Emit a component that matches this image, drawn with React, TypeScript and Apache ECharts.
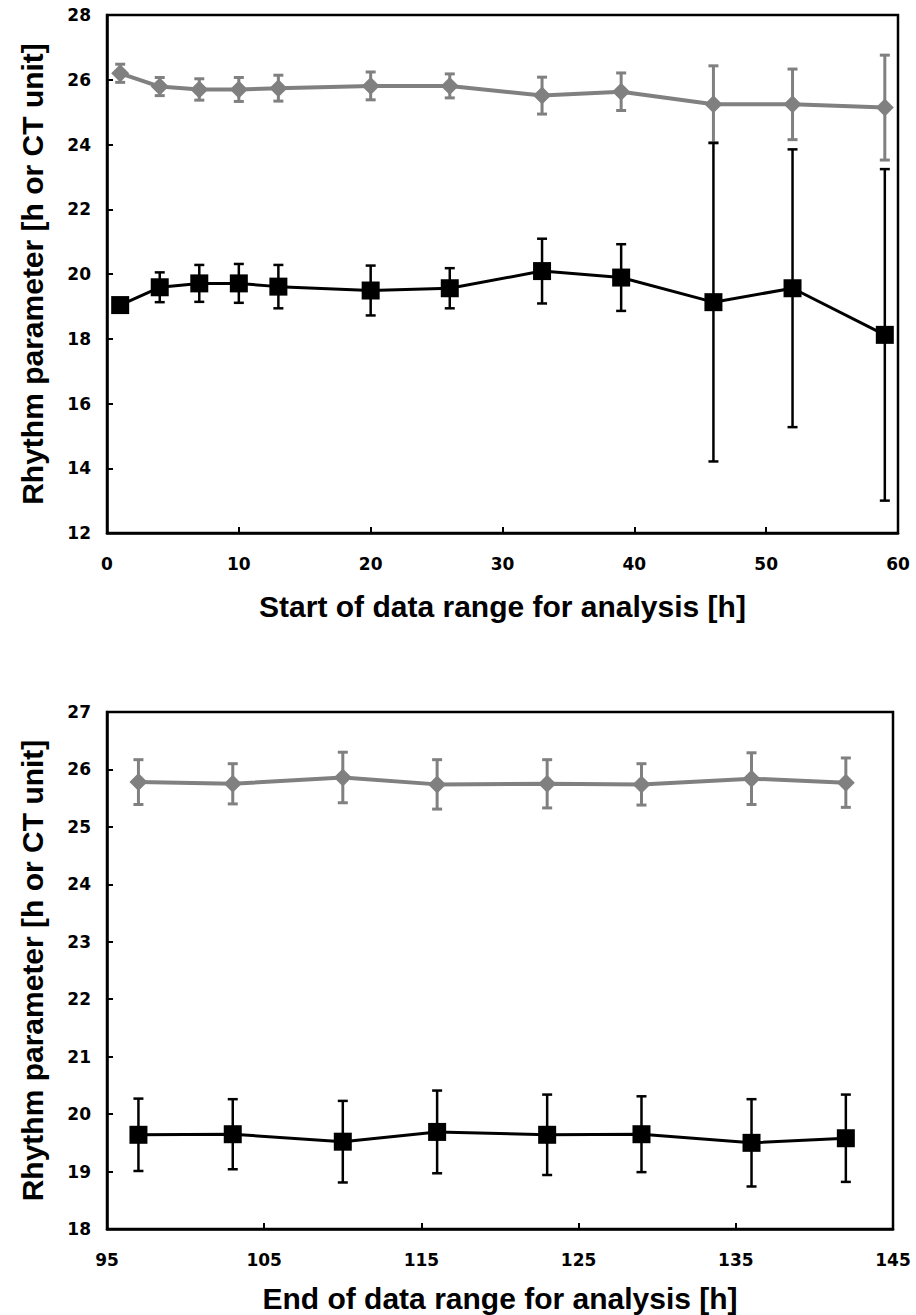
import React, { useEffect, useRef } from "react";
import * as echarts from "echarts";

// ---- Data ----
const topX = [1, 4, 7, 10, 13, 20, 26, 33, 39, 46, 52, 59];
const topGrey = [26.2, 25.79, 25.7, 25.7, 25.74, 25.81, 25.81, 25.51, 25.63, 25.24, 25.24, 25.14];
const topGreyErr = [0.28, 0.28, 0.33, 0.37, 0.4, 0.43, 0.37, 0.57, 0.58, 1.19, 1.09, 1.62];
const topBlack = [19.04, 19.59, 19.71, 19.71, 19.61, 19.49, 19.56, 20.09, 19.89, 19.13, 19.56, 18.12];
const topBlackErr = [0.2, 0.46, 0.57, 0.6, 0.67, 0.77, 0.62, 1.0, 1.03, 4.92, 4.29, 5.12];

const botX = [97, 103, 110, 116, 123, 129, 136, 142];
const botGrey = [25.78, 25.75, 25.86, 25.74, 25.75, 25.74, 25.84, 25.77];
const botGreyErr = [0.39, 0.35, 0.44, 0.43, 0.42, 0.36, 0.45, 0.43];
const botBlack = [19.64, 19.65, 19.52, 19.69, 19.64, 19.65, 19.5, 19.58];
const botBlackErr = [0.63, 0.61, 0.71, 0.72, 0.7, 0.66, 0.76, 0.76];

const topXTitle = "Start of data range for analysis [h]";
const botXTitle = "End of data range for analysis [h]";
const yTitle = "Rhythm parameter [h or CT unit]";

const GREY = "#808080";
const BLACK = "#000000";

function errData(xs: number[], ys: number[], es: number[]) {
  return xs.map((x, i) => [x, ys[i] - es[i], ys[i] + es[i]]);
}
function lineData(xs: number[], ys: number[]) {
  return xs.map((x, i) => [x, ys[i]]);
}

function errSeries(idx: number, data: number[][], color: string, width: number) {
  return {
    type: "custom",
    xAxisIndex: idx,
    yAxisIndex: idx,
    dimensions: ["x", "lo", "hi"],
    encode: { x: 0, y: [1, 2] },
    data,
    silent: true,
    clip: false,
    z: color === BLACK ? 4 : 2,
    renderItem: (params: any, api: any) => {
      const x = api.value(0);
      const p1 = api.coord([x, api.value(2)]);
      const p2 = api.coord([x, api.value(1)]);
      const w = 5;
      const style = { stroke: color, lineWidth: width };
      return {
        type: "group",
        children: [
          { type: "line", shape: { x1: p1[0], y1: p1[1], x2: p2[0], y2: p2[1] }, style },
          { type: "line", shape: { x1: p1[0] - w, y1: p1[1], x2: p1[0] + w, y2: p1[1] }, style },
          { type: "line", shape: { x1: p2[0] - w, y1: p2[1], x2: p2[0] + w, y2: p2[1] }, style },
        ],
      };
    },
  };
}

function lineSeries(idx: number, data: number[][], color: string, width: number, symbol: string, size: number) {
  return {
    type: "line",
    xAxisIndex: idx,
    yAxisIndex: idx,
    data,
    symbol,
    symbolSize: size,
    showAllSymbol: true,
    lineStyle: { color, width },
    itemStyle: { color, borderWidth: 0 },
    z: color === BLACK ? 5 : 3,
    silent: true,
    clip: false,
  };
}

const tickLabel = {
  fontFamily: "DejaVu Sans",
  fontWeight: "bold",
  fontSize: 17,
  color: "#000",
};
const titleStyle = {
  fontFamily: "Liberation Sans",
  fontWeight: "bold",
  fontSize: 30,
  color: "#000",
};

function xAxis(idx: number, min: number, max: number, interval: number, name: string, gap: number) {
  return {
    type: "value",
    gridIndex: idx,
    min,
    max,
    interval,
    name,
    nameLocation: "middle",
    nameGap: gap,
    nameTextStyle: titleStyle,
    axisLine: { show: true, onZero: false, lineStyle: { color: "#000", width: 2.5 } },
    axisTick: { show: true, inside: true, length: 6, lineStyle: { color: "#000", width: 2 } },
    axisLabel: { ...tickLabel, margin: 22 },
    splitLine: { show: false },
  };
}
function yAxis(idx: number, min: number, max: number, interval: number, name: string, gap: number) {
  return {
    type: "value",
    gridIndex: idx,
    min,
    max,
    interval,
    name,
    nameLocation: "middle",
    nameGap: gap,
    nameRotate: 90,
    nameTextStyle: titleStyle,
    axisLine: { show: true, onZero: false, lineStyle: { color: "#000", width: 2.5 } },
    axisTick: { show: true, inside: true, length: 6, lineStyle: { color: "#000", width: 2 } },
    axisLabel: { ...tickLabel, margin: 16 },
    splitLine: { show: false },
  };
}

export default function App() {
  const ref = useRef<HTMLDivElement>(null);
  useEffect(() => {
    document.body.style.margin = "0";
    const chart = echarts.init(ref.current!, null, { renderer: "svg" });
    chart.setOption({
      animation: false,
      backgroundColor: "#fff",
      grid: [
        { left: 107, top: 15, width: 791, height: 518, show: true, borderColor: "#000", borderWidth: 2.5, backgroundColor: "transparent" },
        { left: 107, top: 712, width: 786, height: 517, show: true, borderColor: "#000", borderWidth: 2.5, backgroundColor: "transparent" },
      ],
      xAxis: [xAxis(0, 0, 60, 10, topXTitle, 58), xAxis(1, 95, 145, 10, botXTitle, 54)],
      yAxis: [yAxis(0, 12, 28, 2, yTitle, 60), yAxis(1, 18, 27, 1, yTitle, 60)],
      series: [
        errSeries(0, errData(topX, topGrey, topGreyErr), GREY, 3),
        lineSeries(0, lineData(topX, topGrey), GREY, 4, "diamond", 18),
        errSeries(0, errData(topX, topBlack, topBlackErr), BLACK, 2.5),
        lineSeries(0, lineData(topX, topBlack), BLACK, 3, "rect", 18),
        errSeries(1, errData(botX, botGrey, botGreyErr), GREY, 3),
        lineSeries(1, lineData(botX, botGrey), GREY, 4, "diamond", 18),
        errSeries(1, errData(botX, botBlack, botBlackErr), BLACK, 2.5),
        lineSeries(1, lineData(botX, botBlack), BLACK, 3, "rect", 18),
      ],
    });
    return () => chart.dispose();
  }, []);
  return <div ref={ref} style={{ position: "absolute", left: 0, top: 0, width: 916, height: 1315 }} />;
}
